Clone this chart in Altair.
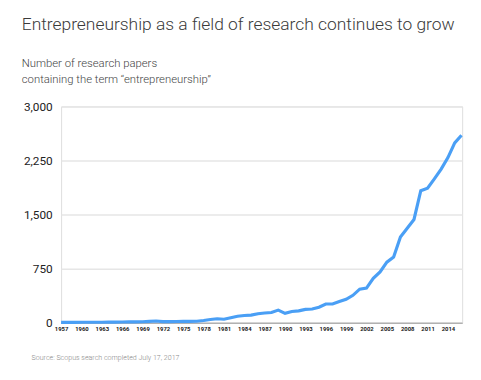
import altair as alt
import pandas as pd

years = list(range(1957, 2017))
papers = [5, 4, 5, 6, 6, 6, 7, 8, 9, 10, 11, 12, 14, 18, 24, 15, 16, 17, 18, 19,
          21, 30, 45, 55, 48, 70, 90, 100, 105, 125, 135, 142, 175, 130, 155, 165,
          185, 190, 215, 260, 260, 295, 325, 380, 465, 480, 615, 705, 840, 910,
          1190, 1310, 1432, 1832, 1865, 1995, 2130, 2290, 2495, 2600]

x_ticks = list(range(1957, 2015, 3))
y_ticks = [0, 750, 1500, 2250, 3000]

title = "Entrepreneurship as a field of research continues to grow"
subtitle = "Number of research papers\ncontaining the term \u201centrepreneurship\u201d"
source = "Source: Scopus search completed July 17, 2017"

df = pd.DataFrame({"year": years, "papers": papers})
FONT = "Roboto"

line = alt.Chart(df).mark_line(color="#4a9ff5", strokeWidth=3.2).encode(
    x=alt.X("year:Q",
            scale=alt.Scale(domain=[1957, 2016.1], nice=False, zero=False),
            axis=alt.Axis(values=x_ticks, format="d", title=None, grid=False,
                          ticks=False, domain=True, domainColor="#999",
                          domainWidth=1, labelFontSize=6, labelFontWeight="bold",
                          labelColor="#222", labelPadding=3, labelFont=FONT,
                          labelOverlap=False, labelFlush=False)),
    y=alt.Y("papers:Q",
            scale=alt.Scale(domain=[0, 3000], nice=False),
            axis=alt.Axis(values=y_ticks, format=",.0f", title=None, grid=True,
                          gridColor="#e6e6e6", gridWidth=1.5, ticks=False,
                          domain=False, labelFontSize=12, labelColor="#222",
                          labelPadding=9, labelFont=FONT)),
)

one = pd.DataFrame({"a": [0]})

t_title = alt.Chart(one).mark_text(
    align="left", baseline="middle", font=FONT, fontSize=17.7, fontWeight=300,
    color="#3a3a3a"
).encode(x=alt.value(-40), y=alt.value(-83), text=alt.value(title))

t_sub = alt.Chart(one).mark_text(
    align="left", baseline="middle", font=FONT, fontSize=11.5, fontWeight=300,
    color="#444", lineBreak="\n", lineHeight=16
).encode(x=alt.value(-40), y=alt.value(-43), text=alt.value(subtitle))

t_src = alt.Chart(one).mark_text(
    align="left", baseline="middle", font=FONT, fontSize=7.2, fontWeight=300,
    color="#888"
).encode(x=alt.value(-30), y=alt.value(256), text=alt.value(source))

chart = alt.layer(line, t_title, t_sub, t_src).properties(
    width=408, height=220,
    autosize=alt.AutoSizeParams(type="none"),
    padding={"left": 54, "top": 97, "right": 11, "bottom": 47},
).configure_view(stroke=None).configure(background="white")

chart.save("out.html", embed_options={"renderer": "svg", "actions": False})
